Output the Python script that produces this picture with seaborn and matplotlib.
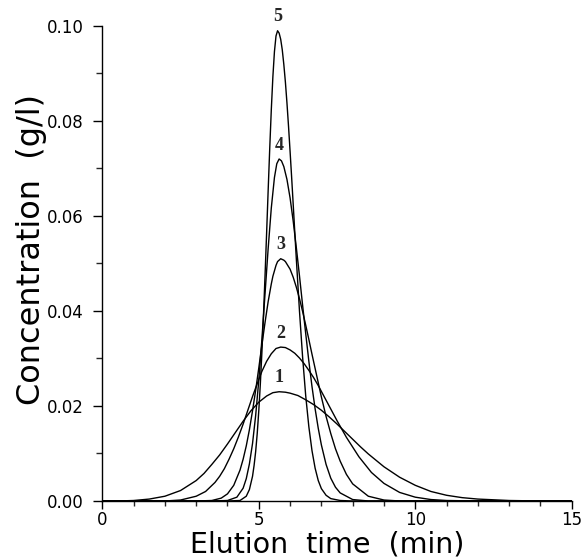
import numpy as np
import pandas as pd
import matplotlib
matplotlib.use("Agg")
import matplotlib.pyplot as plt
import seaborn as sns
from matplotlib.ticker import MultipleLocator, FormatStrFormatter

# ---- data (elution time in min, concentration in g/l) ----
curve_labels = ["1", "2", "3", "4", "5"]

t1 = [0, 0.5, 1.0, 1.5, 2.0, 2.5, 3.0, 3.25, 3.5, 3.75, 4.0, 4.25, 4.5, 4.75, 5.0,
      5.25, 5.45, 5.65, 5.85, 6.0, 6.25, 6.5, 6.75, 7.0, 7.25, 7.5, 7.75, 8.0, 8.25,
      8.5, 9.0, 9.5, 10, 10.5, 11, 11.5, 12, 13, 14, 15]
c1 = [0.0000, 0.0000, 0.0001, 0.0004, 0.0010, 0.0022, 0.0043, 0.0058, 0.0077, 0.0097,
      0.0120, 0.0144, 0.0168, 0.0190, 0.0208, 0.0221, 0.0228, 0.0230, 0.0229, 0.0227,
      0.0222, 0.0213, 0.0203, 0.0191, 0.0177, 0.0162, 0.0146, 0.0130, 0.0114, 0.0099,
      0.0072, 0.0050, 0.0033, 0.0020, 0.0012, 0.0007, 0.0004, 0.0001, 0.0000, 0.0000]

t2 = [0, 1.5, 2.0, 2.5, 3.0, 3.3, 3.6, 3.75, 3.9, 4.05, 4.2, 4.35, 4.5, 4.65, 4.8,
      4.95, 5.1, 5.25, 5.4, 5.55, 5.7, 5.85, 6.0, 6.15, 6.3, 6.45, 6.6, 6.75, 6.9, 7.2,
      7.5, 7.8, 8.2, 8.6, 9.0, 9.5, 10, 10.5, 11, 12, 15]
c2 = [0.0000, 0.0000, 0.0000, 0.0002, 0.0010, 0.0020, 0.0039, 0.0052, 0.0068, 0.0088,
      0.0110, 0.0135, 0.0162, 0.0191, 0.0220, 0.0247, 0.0273, 0.0294, 0.0310, 0.0321,
      0.0324, 0.0323, 0.0318, 0.0311, 0.0301, 0.0289, 0.0275, 0.0260, 0.0243, 0.0206,
      0.0169, 0.0134, 0.0093, 0.0060, 0.0037, 0.0018, 0.0008, 0.0003, 0.0001, 0.0000,
      0.0000]

t3 = [0, 3.0, 3.5, 3.8, 4.0, 4.2, 4.4, 4.5, 4.6, 4.7, 4.8, 4.9, 5.0, 5.1, 5.2, 5.3,
      5.4, 5.45, 5.55, 5.6, 5.7, 5.8, 5.85, 6.0, 6.1, 6.2, 6.3, 6.4, 6.5, 6.6, 6.7, 6.8,
      7.0, 7.15, 7.3, 7.45, 7.6, 7.8, 8.0, 8.5, 9.0, 9.5, 10, 15]
c3 = [0.0000, 0.0000, 0.0001, 0.0006, 0.0015, 0.0033, 0.0065, 0.0088, 0.0116, 0.0150,
      0.0190, 0.0233, 0.0280, 0.0329, 0.0376, 0.0420, 0.0457, 0.0473, 0.0496, 0.0504,
      0.0510, 0.0507, 0.0504, 0.0488, 0.0471, 0.0450, 0.0426, 0.0399, 0.0370, 0.0340,
      0.0309, 0.0279, 0.0219, 0.0178, 0.0142, 0.0110, 0.0084, 0.0056, 0.0036, 0.0010,
      0.0002, 0.0000, 0.0000, 0.0000]

t4 = [0, 3.5, 4.0, 4.3, 4.5, 4.6, 4.7, 4.8, 4.9, 5.0, 5.1, 5.2, 5.3, 5.4, 5.5, 5.575,
      5.65, 5.725, 5.8, 5.9, 6.0, 6.1, 6.2, 6.3, 6.4, 6.5, 6.6, 6.7, 6.8, 6.9, 7.0,
      7.15, 7.3, 7.45, 7.6, 8.0, 8.5, 9.0, 15]
c4 = [0.0000, 0.0000, 0.0001, 0.0008, 0.0027, 0.0047, 0.0078, 0.0121, 0.0180, 0.0254,
      0.0341, 0.0437, 0.0532, 0.0617, 0.0681, 0.0710, 0.0720, 0.0716, 0.0704, 0.0677,
      0.0638, 0.0589, 0.0533, 0.0474, 0.0412, 0.0352, 0.0294, 0.0241, 0.0194, 0.0153,
      0.0118, 0.0077, 0.0048, 0.0029, 0.0017, 0.0003, 0.0000, 0.0000, 0.0000]

t5 = [0, 4.0, 4.4, 4.6, 4.7, 4.8, 4.85, 4.9, 4.95, 5.0, 5.05, 5.1, 5.15, 5.2, 5.25,
      5.3, 5.35, 5.4, 5.45, 5.5, 5.55, 5.6, 5.65, 5.7, 5.75, 5.8, 5.85, 5.9, 5.95, 6.0,
      6.05, 6.1, 6.15, 6.2, 6.3, 6.4, 6.5, 6.6, 6.7, 6.8, 6.9, 7.0, 7.15, 7.3, 7.6,
      8.0, 15]
c5 = [0.0000, 0.0000, 0.0001, 0.0010, 0.0024, 0.0052, 0.0075, 0.0104, 0.0142, 0.0190,
      0.0247, 0.0314, 0.0391, 0.0475, 0.0564, 0.0655, 0.0743, 0.0824, 0.0893, 0.0946,
      0.0979, 0.0990, 0.0985, 0.0972, 0.0950, 0.0919, 0.0882, 0.0838, 0.0789, 0.0736,
      0.0681, 0.0624, 0.0566, 0.0509, 0.0400, 0.0303, 0.0221, 0.0156, 0.0106, 0.0069,
      0.0043, 0.0026, 0.0012, 0.0005, 0.0001, 0.0000, 0.0000]

x_ticks = [0, 5, 10, 15]
y_ticks = [0.00, 0.02, 0.04, 0.06, 0.08, 0.10]

times = [t1, t2, t3, t4, t5]
concs = [c1, c2, c3, c4, c5]
df = pd.concat(
    [pd.DataFrame({"time": t, "conc": c, "curve": lab})
     for t, c, lab in zip(times, concs, curve_labels)],
    ignore_index=True,
)

# ---- figure ----
sns.set_style("ticks")
plt.rcParams["font.family"] = ["DejaVu Sans"]

fig = plt.figure(figsize=(5.84, 5.59), dpi=100)
ax = fig.add_axes([0.1752, 0.1038, 0.8038, 0.8497])

for lab in curve_labels:
    sub = df[df["curve"] == lab]
    sns.lineplot(data=sub, x="time", y="conc", color="black", linewidth=1.0,
                 estimator=None, sort=False, ax=ax, legend=False)
    i = sub["conc"].idxmax()
    ax.annotate(lab, xy=(sub.loc[i, "time"], sub.loc[i, "conc"]),
                xytext=(0, 10), textcoords="offset points",
                ha="center", va="center", fontsize=13, fontweight="bold",
                family=["Liberation Serif"], annotation_clip=False)

ax.set_xlim(x_ticks[0], x_ticks[-1])
ax.set_ylim(y_ticks[0], y_ticks[-1])
ax.set_xticks(x_ticks)
ax.set_yticks(y_ticks)
ax.xaxis.set_minor_locator(MultipleLocator(1))
ax.yaxis.set_minor_locator(MultipleLocator(0.01))
ax.yaxis.set_major_formatter(FormatStrFormatter("%.2f"))

sns.despine(ax=ax)
for s in ["left", "bottom"]:
    ax.spines[s].set_linewidth(1.0)
    ax.spines[s].set_color("black")

ax.tick_params(axis="x", which="major", direction="out", length=5.5, width=1.0,
               labelsize=12, pad=2, colors="black")
ax.tick_params(axis="x", which="minor", direction="out", length=3.5, width=1.0)
ax.tick_params(axis="y", which="major", direction="out", length=6.5, width=1.0,
               labelsize=12, pad=7, colors="black")
ax.tick_params(axis="y", which="minor", direction="out", length=4.3, width=1.0)

ax.set_xlabel("Elution  time  (min)", fontsize=20.5, color="black")
ax.set_ylabel("Concentration  (g/l)", fontsize=23, color="black")
ax.xaxis.set_label_coords(0.478, -0.062)
ax.yaxis.set_label_coords(-0.118, 0.53)

fig.savefig("out.png", dpi=100)
